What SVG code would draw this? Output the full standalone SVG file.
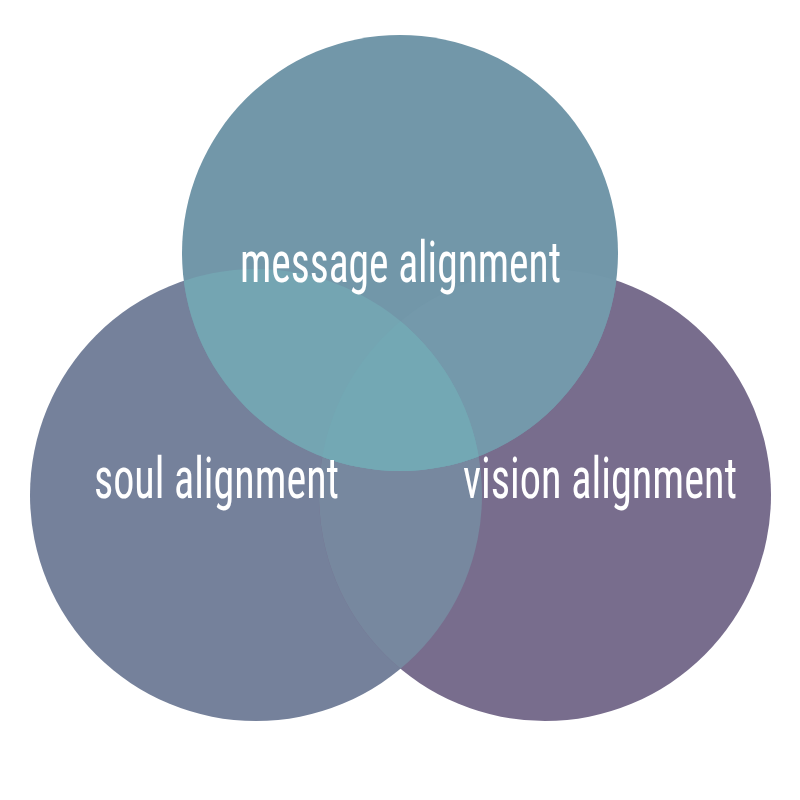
<svg xmlns="http://www.w3.org/2000/svg" width="800" height="800" viewBox="0 0 800 800">
  <defs>
    <clipPath id="clipL"><circle cx="256" cy="495" r="226"/></clipPath>
    <clipPath id="clipR"><circle cx="545" cy="495" r="226"/></clipPath>
    <clipPath id="clipT"><circle cx="400" cy="253" r="218"/></clipPath>
  </defs>
  <style>
    .lbl { font-family: "Liberation Sans Narrow", "Roboto Condensed", "DejaVu Sans Condensed", "Liberation Sans", sans-serif; font-size: 58px; fill: #ffffff; font-weight: normal; }
  </style>
  <rect width="800" height="800" fill="#ffffff"/>
  <g id="soul">
    <circle cx="256" cy="495" r="226" fill="#75819B"/>
  </g>
  <g id="vision">
    <circle cx="545" cy="495" r="226" fill="#786D8D"/>
    <circle cx="545" cy="495" r="226" fill="#77889F" clip-path="url(#clipL)"/>
  </g>
  <g id="message">
    <circle cx="400" cy="253" r="218" fill="#7297A9"/>
    <g clip-path="url(#clipT)">
      <circle cx="545" cy="495" r="226" fill="#7499AB"/>
      <circle cx="256" cy="495" r="226" fill="#74A5B2"/>
      <circle cx="545" cy="495" r="226" fill="#73A8B4" clip-path="url(#clipL)"/>
    </g>
  </g>
  <g id="labels">
    <text class="lbl" x="240" y="282" textLength="321" lengthAdjust="spacingAndGlyphs">message alignment</text>
    <text class="lbl" x="94" y="498" textLength="245" lengthAdjust="spacingAndGlyphs">soul alignment</text>
    <text class="lbl" x="463" y="498" textLength="274" lengthAdjust="spacingAndGlyphs">vision alignment</text>
  </g>
</svg>
